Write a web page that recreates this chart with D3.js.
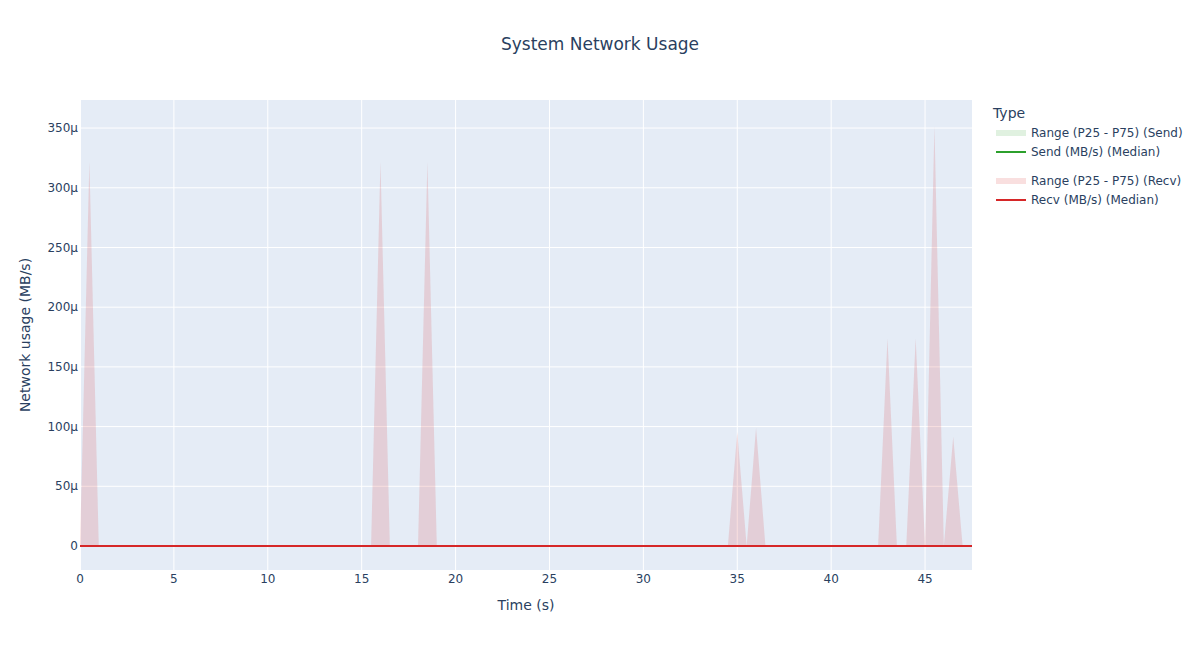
<!DOCTYPE html>
<html><head><meta charset="utf-8">
<script src="https://cdn.jsdelivr.net/npm/d3@7"></script>
<style>body{margin:0;background:#fff;} text{font-family:"DejaVu Sans",Verdana,sans-serif;}</style>
</head><body>
<svg id="chart" width="1200" height="650"></svg>
<script>
const times = [0,0.5,1,1.5,2,2.5,3,3.5,4,4.5,5,5.5,6,6.5,7,7.5,8,8.5,9,9.5,10,10.5,11,11.5,12,12.5,13,13.5,14,14.5,15,15.5,16,16.5,17,17.5,18,18.5,19,19.5,20,20.5,21,21.5,22,22.5,23,23.5,24,24.5,25,25.5,26,26.5,27,27.5,28,28.5,29,29.5,30,30.5,31,31.5,32,32.5,33,33.5,34,34.5,35,35.5,36,36.5,37,37.5,38,38.5,39,39.5,40,40.5,41,41.5,42,42.5,43,43.5,44,44.5,45,45.5,46,46.5,47,47.5];
const recvP75 = [0,322e-6,0,0,0,0,0,0,0,0, 0,0,0,0,0,0,0,0,0,0, 0,0,0,0,0,0,0,0,0,0, 0,0,322e-6,0,0,0,0,322e-6,0,0, 0,0,0,0,0,0,0,0,0,0, 0,0,0,0,0,0,0,0,0,0, 0,0,0,0,0,0,0,0,0,0, 95.5e-6,0,99e-6,0,0,0,0,0,0,0, 0,0,0,0,0,0,174e-6,0,0,174e-6, 0,352e-6,0,91.5e-6,0,0];
const recvP25 = times.map(() => 0);
const recvMedian = times.map(() => 0);
const sendP75 = times.map(() => 0);
const sendP25 = times.map(() => 0);
const sendMedian = times.map(() => 0);
const xTicks = [0,5,10,15,20,25,30,35,40,45];
const yTicks = [0,50e-6,100e-6,150e-6,200e-6,250e-6,300e-6,350e-6];
const yTickLabels = ["0","50μ","100μ","150μ","200μ","250μ","300μ","350μ"];
const legendLabels = ["Range (P25 - P75) (Send)","Send (MB/s) (Median)","Range (P25 - P75) (Recv)","Recv (MB/s) (Median)"];

const svg = d3.select("#chart");
const L=80,R=972,T=100,B=570;
const txt="#2a3f5f";
const x = d3.scaleLinear().domain([0,47.5]).range([L,R]);
const y = d3.scaleLinear().domain([-20.1e-6,373.5e-6]).range([B,T]);

svg.append("rect").attr("x",L).attr("y",T).attr("width",R-L).attr("height",B-T).attr("fill","#E5ECF6");
// grid
svg.append("g").selectAll("line").data(xTicks).join("line")
  .attr("x1",d=>x(d)).attr("x2",d=>x(d)).attr("y1",T).attr("y2",B)
  .attr("stroke","#fff").attr("stroke-width",d=>d===0?2:1);
svg.append("g").selectAll("line").data(yTicks).join("line")
  .attr("x1",L).attr("x2",R).attr("y1",d=>y(d)).attr("y2",d=>y(d))
  .attr("stroke","#fff").attr("stroke-width",d=>d===0?2:1);

const plot = svg.append("g");
function drawSeries(p25,p75,med,fill,col){
  const data = times.map((t,i)=>({t,lo:p25[i],hi:p75[i],m:med[i]}));
  plot.append("path").datum(data)
    .attr("d",d3.area().x(d=>x(d.t)).y0(d=>y(d.lo)).y1(d=>y(d.hi)))
    .attr("fill",fill).attr("stroke","none");
  plot.append("path").datum(data)
    .attr("d",d3.line().x(d=>x(d.t)).y(d=>y(d.m)))
    .attr("fill","none").attr("stroke",col).attr("stroke-width",2);
}
drawSeries(sendP25,sendP75,sendMedian,"rgba(44,160,44,0.15)","#2ca02c");
drawSeries(recvP25,recvP75,recvMedian,"rgba(214,39,40,0.15)","#d62728");

// axes labels
svg.append("g").selectAll("text").data(xTicks).join("text")
  .attr("x",d=>x(d)).attr("y",583).attr("text-anchor","middle")
  .attr("font-size",12).attr("fill",txt).text(d=>d);
svg.append("g").selectAll("text").data(yTicks).join("text")
  .attr("x",L-2).attr("y",d=>y(d)).attr("dy","0.35em").attr("text-anchor","end")
  .attr("font-size",12).attr("fill",txt).text((d,i)=>yTickLabels[i]);

svg.append("text").attr("x",(L+R)/2).attr("y",610).attr("text-anchor","middle")
  .attr("font-size",14).attr("fill",txt).text("Time (s)");
svg.append("text").attr("transform",`translate(30,${(T+B)/2}) rotate(-90)`).attr("text-anchor","middle")
  .attr("font-size",14).attr("fill",txt).text("Network usage (MB/s)");
svg.append("text").attr("x",600).attr("y",50).attr("text-anchor","middle")
  .attr("font-size",17).attr("fill",txt).text("System Network Usage");

// legend
const lg = svg.append("g");
lg.append("text").attr("x",993).attr("y",118).attr("font-size",14).attr("fill",txt).text("Type");
const items=[
  {label:legendLabels[0],type:"fill",c:"rgba(44,160,44,0.15)",y:133},
  {label:legendLabels[1],type:"line",c:"#2ca02c",y:152},
  {label:legendLabels[2],type:"fill",c:"rgba(214,39,40,0.15)",y:181},
  {label:legendLabels[3],type:"line",c:"#d62728",y:200}
];
items.forEach(it=>{
  if(it.type==="fill") lg.append("rect").attr("x",996).attr("y",it.y-3).attr("width",30).attr("height",6).attr("fill",it.c);
  else lg.append("line").attr("x1",996).attr("x2",1026).attr("y1",it.y).attr("y2",it.y).attr("stroke",it.c).attr("stroke-width",2);
  lg.append("text").attr("x",1031).attr("y",it.y).attr("dy","0.35em").attr("font-size",12).attr("fill",txt).text(it.label);
});
</script>
</body></html>
